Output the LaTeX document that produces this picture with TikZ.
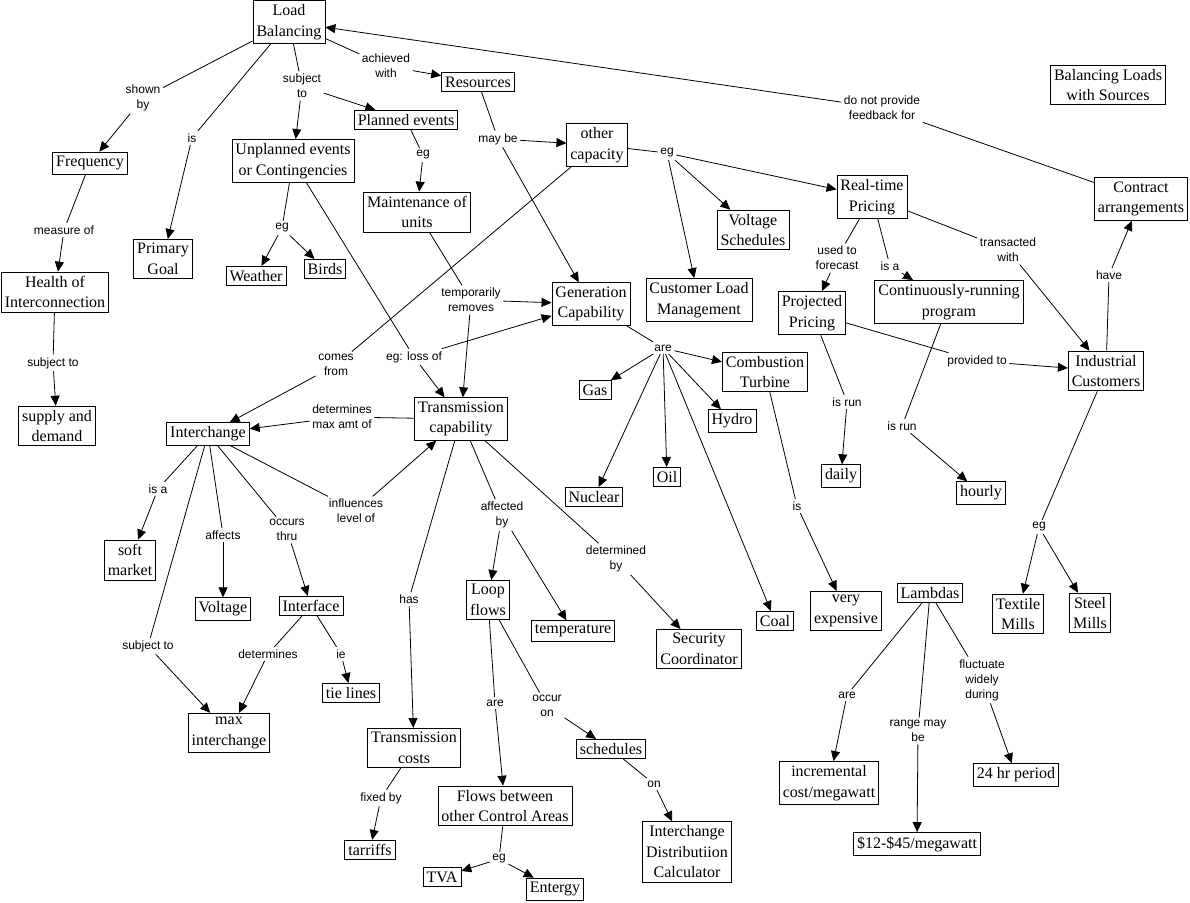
\documentclass[tikz,border=0pt]{standalone}
\usepackage{fontspec}
\setmainfont{Liberation Serif}
\newfontfamily\linkfont{Liberation Sans}
\usetikzlibrary{arrows.meta}

\begin{document}
\begin{tikzpicture}[x=1pt,y=-1pt,
		concept/.style={draw,line width=0.8pt,align=center,inner xsep=3.5pt,inner ysep=4pt,font=\fontsize{16}{20.5}\selectfont},
		link/.style={align=center,inner sep=2.5pt,font=\linkfont\fontsize{12}{15}\selectfont},
		conn/.style={line width=0.8pt},
		conna/.style={line width=0.8pt,-{Triangle[length=10pt,width=9pt]}}]
			\useasboundingbox (0,0) rectangle (1190,902);
			% concepts
			\node[concept] (loadbal) at (289,22) {Load\\Balancing};
			\node[concept] (resources) at (478,82) {Resources};
			\node[concept] (planned) at (406,120) {Planned events};
			\node[concept] (unplanned) at (293,161) {Unplanned events\\or Contingencies};
			\node[concept] (frequency) at (90,163) {Frequency};
			\node[concept] (goal) at (163,259) {Primary\\Goal};
			\node[concept] (health) at (55,292) {Health of\\Interconnection};
			\node[concept] (weather) at (256,276) {Weather};
			\node[concept] (birds) at (325,269) {Birds};
			\node[concept] (maint) at (417,212) {Maintenance of\\units};
			\node[concept] (othercap) at (597,145) {other\\capacity};
			\node[concept] (voltsched) at (753,230) {Voltage\\Schedules};
			\node[concept] (custload) at (699,300) {Customer Load\\Management};
			\node[concept] (realtime) at (872,197) {Real-time\\Pricing};
			\node[concept] (contract) at (1141,199) {Contract\\arrangements};
			\node[concept] (title) at (1108,85) {Balancing Loads\\with Sources};
			\node[concept] (gencap) at (591,304) {Generation\\Capability};
			\node[concept] (projected) at (812,313) {Projected\\Pricing};
			\node[concept] (contrun) at (949,302) {Continuously-running\\program};
			\node[concept] (industrial) at (1106,371) {Industrial\\Customers};
			\node[concept] (turbine) at (765,372) {Combustion\\Turbine};
			\node[concept] (gas) at (595,390) {Gas};
			\node[concept] (hydro) at (732,421) {Hydro};
			\node[concept] (oil) at (667,477) {Oil};
			\node[concept] (nuclear) at (594,497) {Nuclear};
			\node[concept] (transcap) at (461,419) {Transmission\\capability};
			\node[concept] (interchange) at (208,434) {Interchange};
			\node[concept] (supply) at (57,426) {supply and\\demand};
			\node[concept] (daily) at (841,476) {daily};
			\node[concept] (hourly) at (981,493) {hourly};
			\node[concept] (soft) at (130,560) {soft\\market};
			\node[concept] (voltage) at (223,609) {Voltage};
			\node[concept] (interface) at (311,606) {Interface};
			\node[concept] (loop) at (488,600) {Loop\\flows};
			\node[concept] (temp) at (573,631) {temperature};
			\node[concept] (security) at (699,649) {Security\\Coordinator};
			\node[concept] (coal) at (775,621) {Coal};
			\node[concept] (expensive) at (846,611) {very\\expensive};
			\node[concept] (lambdas) at (930,593) {Lambdas};
			\node[concept] (textile) at (1018,614) {Textile\\Mills};
			\node[concept] (steel) at (1090,613) {Steel\\Mills};
			\node[concept] (tielines) at (351,693) {tie lines};
			\node[concept] (maxint) at (229,733) {max\\interchange};
			\node[concept] (transcost) at (414,748) {Transmission\\costs};
			\node[concept] (tariffs) at (370,850) {tarriffs};
			\node[concept] (schedules) at (611,749) {schedules};
			\node[concept] (flows) at (505,806) {Flows between\\other Control Areas};
			\node[concept] (tva) at (442,877) {TVA};
			\node[concept] (entergy) at (555,889) {Entergy};
			\node[concept] (idc) at (687,852) {Interchange\\Distributiion\\Calculator};
			\node[concept] (incr) at (829,783) {incremental\\cost/megawatt};
			\node[concept] (range) at (917,844) {\$12-\$45/megawatt};
			\node[concept] (period) at (1016,775) {24 hr period};
			% linking phrases
			\node[link] (l-shown) at (143,98) {shown\\by};
			\node[link] (l-is) at (192,138) {is};
			\node[link] (l-subject) at (302,86) {subject\\to};
			\node[link] (l-achieved) at (386,66) {achieved\\with};
			\node[link] (l-feedback) at (882,108) {do not provide\\feedback for};
			\node[link] (l-measure) at (64,230) {measure of};
			\node[link] (l-egunpl) at (282,228) {eg};
			\node[link] (l-egplan) at (423,155) {eg};
			\node[link] (l-maybe) at (498,139) {may be};
			\node[link] (l-egother) at (667,153) {eg};
			\node[link] (l-removes) at (471,300) {temporarily\\removes};
			\node[link] (l-loss) at (414,357) {eg: loss of};
			\node[link] (l-comes) at (336,365) {comes\\from};
			\node[link] (l-forecast) at (837,258) {used to\\forecast};
			\node[link] (l-isarun) at (890,266) {is a};
			\node[link] (l-transacted) at (1008,250) {transacted\\with};
			\node[link] (l-have) at (1109,275) {have};
			\node[link] (l-aregen) at (663,348) {are};
			\node[link] (l-provided) at (977,361) {provided to};
			\node[link] (l-subjhealth) at (53,363) {subject to};
			\node[link] (l-maxamt) at (342,417) {determines\\max amt of};
			\node[link] (l-rundaily) at (847,402) {is run};
			\node[link] (l-runhourly) at (902,426) {is run};
			\node[link] (l-isasoft) at (158,489) {is a};
			\node[link] (l-affects) at (223,535) {affects};
			\node[link] (l-thru) at (287,530) {occurs\\thru};
			\node[link] (l-influences) at (356,511) {influences\\level of};
			\node[link] (l-has) at (409,599) {has};
			\node[link] (l-affected) at (502,515) {affected\\by};
			\node[link] (l-determined) at (616,559) {determined\\by};
			\node[link] (l-isexp) at (797,506) {is};
			\node[link] (l-egind) at (1039,527) {eg};
			\node[link] (l-subjmax) at (148,646) {subject to};
			\node[link] (l-determines) at (268,654) {determines};
			\node[link] (l-ie) at (341,654) {ie};
			\node[link] (l-fixed) at (381,798) {fixed by};
			\node[link] (l-areloop) at (495,703) {are};
			\node[link] (l-occur) at (547,706) {occur\\on};
			\node[link] (l-on) at (654,784) {on};
			\node[link] (l-egflows) at (499,859) {eg};
			\node[link] (l-arelam) at (847,695) {are};
			\node[link] (l-rangemay) at (918,731) {range may\\be};
			\node[link] (l-fluctuate) at (982,680) {fluctuate\\widely\\during};
			% connectors
			\draw[conn] (loadbal) -- (l-shown);
			\draw[conna] (l-shown) -- (frequency);
			\draw[conn] (loadbal) -- (l-is);
			\draw[conna] (l-is) -- (goal);
			\draw[conn] (loadbal) -- (l-subject);
			\draw[conna] (l-subject) -- (unplanned);
			\draw[conna] (l-subject) -- (planned);
			\draw[conn] (loadbal) -- (l-achieved);
			\draw[conna] (l-achieved) -- (resources);
			\draw[conn] (contract) -- (l-feedback);
			\draw[conna] (l-feedback) -- (loadbal);
			\draw[conn] (frequency) -- (l-measure);
			\draw[conna] (l-measure) -- (health);
			\draw[conn] (health) -- (l-subjhealth);
			\draw[conna] (l-subjhealth) -- (supply);
			\draw[conn] (unplanned) -- (l-egunpl);
			\draw[conna] (l-egunpl) -- (weather);
			\draw[conna] (l-egunpl) -- (birds);
			\draw[conn] (unplanned) -- (l-loss);
			\draw[conna] (l-loss) -- (transcap);
			\draw[conna] (l-loss) -- (gencap);
			\draw[conn] (planned) -- (l-egplan);
			\draw[conna] (l-egplan) -- (maint);
			\draw[conn] (maint) -- (l-removes);
			\draw[conna] (l-removes) -- (gencap);
			\draw[conna] (l-removes) -- (transcap);
			\draw[conn] (resources) -- (l-maybe);
			\draw[conna] (l-maybe) -- (othercap);
			\draw[conna] (l-maybe) -- (gencap);
			\draw[conn] (othercap) -- (l-egother);
			\draw[conna] (l-egother) -- (voltsched);
			\draw[conna] (l-egother) -- (custload);
			\draw[conna] (l-egother) -- (realtime);
			\draw[conn] (othercap) -- (l-comes);
			\draw[conna] (l-comes) -- (interchange);
			\draw[conn] (realtime) -- (l-forecast);
			\draw[conna] (l-forecast) -- (projected);
			\draw[conn] (realtime) -- (l-isarun);
			\draw[conna] (l-isarun) -- (contrun);
			\draw[conn] (realtime) -- (l-transacted);
			\draw[conna] (l-transacted) -- (industrial);
			\draw[conn] (industrial) -- (l-have);
			\draw[conna] (l-have) -- (contract);
			\draw[conn] (gencap) -- (l-aregen);
			\draw[conna] (l-aregen) -- (gas);
			\draw[conna] (l-aregen) -- (nuclear);
			\draw[conna] (l-aregen) -- (oil);
			\draw[conna] (l-aregen) -- (hydro);
			\draw[conna] (l-aregen) -- (coal);
			\draw[conna] (l-aregen) -- (turbine);
			\draw[conn] (projected) -- (l-provided);
			\draw[conna] (l-provided) -- (industrial);
			\draw[conn] (projected) -- (l-rundaily);
			\draw[conna] (l-rundaily) -- (daily);
			\draw[conn] (contrun) -- (l-runhourly);
			\draw[conna] (l-runhourly) -- (hourly);
			\draw[conn] (transcap) -- (l-maxamt);
			\draw[conna] (l-maxamt) -- (interchange);
			\draw[conn] (interchange) -- (l-isasoft);
			\draw[conna] (l-isasoft) -- (soft);
			\draw[conn] (interchange) -- (l-affects);
			\draw[conna] (l-affects) -- (voltage);
			\draw[conn] (interchange) -- (l-thru);
			\draw[conna] (l-thru) -- (interface);
			\draw[conn] (interchange) -- (l-influences);
			\draw[conna] (l-influences) -- (transcap);
			\draw[conn] (interchange) -- (l-subjmax);
			\draw[conna] (l-subjmax) -- (maxint);
			\draw[conn] (transcap) -- (l-has);
			\draw[conna] (l-has) -- (transcost);
			\draw[conn] (transcap) -- (l-affected);
			\draw[conna] (l-affected) -- (loop);
			\draw[conna] (l-affected) -- (temp);
			\draw[conn] (transcap) -- (l-determined);
			\draw[conna] (l-determined) -- (security);
			\draw[conn] (turbine) -- (l-isexp);
			\draw[conna] (l-isexp) -- (expensive);
			\draw[conn] (industrial) -- (l-egind);
			\draw[conna] (l-egind) -- (textile);
			\draw[conna] (l-egind) -- (steel);
			\draw[conn] (interface) -- (l-determines);
			\draw[conna] (l-determines) -- (maxint);
			\draw[conn] (interface) -- (l-ie);
			\draw[conna] (l-ie) -- (tielines);
			\draw[conn] (transcost) -- (l-fixed);
			\draw[conna] (l-fixed) -- (tariffs);
			\draw[conn] (loop) -- (l-areloop);
			\draw[conna] (l-areloop) -- (flows);
			\draw[conn] (loop) -- (l-occur);
			\draw[conna] (l-occur) -- (schedules);
			\draw[conn] (schedules) -- (l-on);
			\draw[conna] (l-on) -- (idc);
			\draw[conn] (flows) -- (l-egflows);
			\draw[conna] (l-egflows) -- (tva);
			\draw[conna] (l-egflows) -- (entergy);
			\draw[conn] (lambdas) -- (l-arelam);
			\draw[conna] (l-arelam) -- (incr);
			\draw[conn] (lambdas) -- (l-rangemay);
			\draw[conna] (l-rangemay) -- (range);
			\draw[conn] (lambdas) -- (l-fluctuate);
			\draw[conna] (l-fluctuate) -- (period);
		\end{tikzpicture}
\end{document}
